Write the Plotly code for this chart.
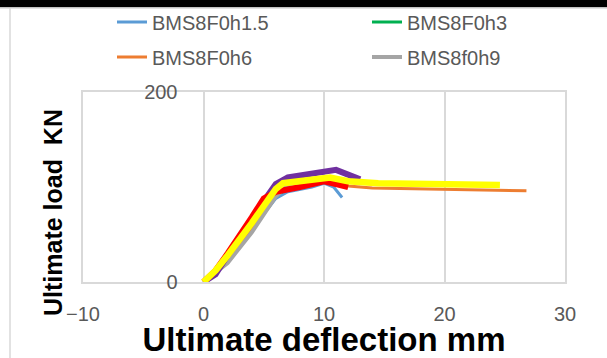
import plotly.graph_objects as go

# ---- data ----
blue_x = [0, 2, 4, 6, 7, 9, 10, 10.8, 11.5]
blue_y = [0, 22, 55, 88, 95, 100, 104, 100, 89]

green_x = [0, 2, 4, 6, 7.5, 10, 12]
green_y = [0, 25, 58, 92, 100, 106, 100]

orange_x = [0, 2, 4, 6, 7, 10, 12, 14, 26.8]
orange_y = [0, 24, 56, 92, 100, 107, 101, 99, 96]

gray_x = [0, 2, 4, 6, 7, 10, 12, 13]
gray_y = [0, 20, 52, 90, 102, 110, 106, 104]

purple_x = [0, 1, 2, 3, 4, 5, 6, 7, 9, 11, 12, 13]
purple_y = [0, 8, 28, 46, 64, 85, 103, 110, 114, 118, 113, 108]

red_x = [0, 1, 2, 3, 4, 5, 6, 8, 10, 11, 12]
red_y = [0, 12, 30, 48, 68, 88, 95, 100, 106, 103, 100]

yellow_x = [0, 1, 2, 3, 4, 5, 6, 6.6, 8, 10.5, 12, 14.5, 24.6]
yellow_y = [0, 12, 28, 44, 62, 80, 98, 104, 106, 110, 106, 104, 102]

x_ticks = [-10, 0, 10, 20, 30]
y_ticks = [0, 200]

names = ["BMS8F0h1.5", "BMS8F0h3", "BMS8F0h6", "BMS8f0h9"]

TICK_GRAY = "#595959"
GRID = "#D9D9D9"
FONT = "Liberation Sans, Arial, sans-serif"

L, R, T, B = 83, 42, 92, 76
PW = 607 - L - R
PH = 358 - T - B

def px_x(p):
    return (p - L) / PW

def px_y(p):
    return (358 - B - p) / PH

fig = go.Figure()

legend_series = [
    (blue_x, blue_y, names[0], "#5B9BD5", 3, "legend"),
    (green_x, green_y, names[1], "#00B050", 3, "legend2"),
    (orange_x, orange_y, names[2], "#ED7D31", 3, "legend3"),
    (gray_x, gray_y, names[3], "#A5A5A5", 4, "legend4"),
]
for xs, ys, nm, col, w, lg in legend_series:
    fig.add_trace(go.Scatter(x=xs, y=ys, name=nm, mode="lines",
                             line=dict(color=col, width=w), legend=lg))

fig.add_trace(go.Scatter(x=purple_x, y=purple_y, mode="lines", showlegend=False,
                         line=dict(color="#7030A0", width=6)))
fig.add_trace(go.Scatter(x=red_x, y=red_y, mode="lines", showlegend=False,
                         line=dict(color="#FF0000", width=6)))
fig.add_trace(go.Scatter(x=yellow_x, y=yellow_y, mode="lines", showlegend=False,
                         line=dict(color="#FFFF00", width=6.5), yaxis="y2"))

def leg(xp, yp):
    return dict(orientation="h", x=px_x(xp), xanchor="left", y=px_y(yp),
                yanchor="middle", font=dict(size=20, color=TICK_GRAY, family=FONT),
                bgcolor="rgba(0,0,0,0)", borderwidth=0)

fig.update_layout(
    width=607, height=358,
    margin=dict(l=L, r=R, t=T, b=B, autoexpand=False),
    paper_bgcolor="white", plot_bgcolor="white",
    font=dict(family=FONT, color=TICK_GRAY, size=20),
    xaxis=dict(range=[-10, 30], tickvals=x_ticks, showgrid=True, gridcolor=GRID,
               gridwidth=1.5, showline=True, mirror=True, linecolor=GRID, linewidth=1.5,
               zeroline=False, ticks="", ticklabelstandoff=13,
               tickfont=dict(size=20, color=TICK_GRAY),
               title=dict(text="<b>Ultimate deflection mm</b>", standoff=0,
                          font=dict(size=33, color="black", family=FONT)),
               automargin=False),
    yaxis=dict(range=[0, 200], tickvals=y_ticks, showgrid=True, gridcolor=GRID,
               gridwidth=1.5, showline=True, mirror=True, linecolor=GRID, linewidth=1.5,
               zeroline=False, ticks="", showticklabels=False, automargin=False),
    yaxis2=dict(range=[0, 200], tickvals=y_ticks, overlaying="y", anchor="free",
                position=0.25, side="left", showgrid=False, showline=False,
                zeroline=False, ticks="", ticklabelstandoff=26,
                tickfont=dict(size=20, color=TICK_GRAY), automargin=False),
    legend=leg(112, 22),
    legend2=leg(367, 22),
    legend3=leg(112, 57),
    legend4=leg(367, 57),
    showlegend=True,
)

fig.add_annotation(text="<b>Ultimate load  KN</b>", textangle=-90,
                   xref="paper", yref="paper", x=px_x(53), y=px_y(213),
                   xanchor="center", yanchor="middle", showarrow=False,
                   font=dict(size=25, color="black", family=FONT))

# frame: black top bar and light left border
fig.add_shape(type="rect", xref="paper", yref="paper",
              x0=px_x(0), x1=px_x(607), y0=px_y(7), y1=px_y(0),
              fillcolor="black", line=dict(color="black", width=1), layer="above")
fig.add_shape(type="line", xref="paper", yref="paper",
              x0=px_x(0), x1=px_x(607), y0=px_y(8), y1=px_y(8),
              line=dict(color=GRID, width=1.5))
fig.add_shape(type="line", xref="paper", yref="paper",
              x0=px_x(10), x1=px_x(10), y0=px_y(8), y1=px_y(358),
              line=dict(color=GRID, width=1.5))

fig.write_html("out.html",
               config={"displayModeBar": False},
               post_script="document.body.style.margin='0';document.body.style.overflow='hidden';")
